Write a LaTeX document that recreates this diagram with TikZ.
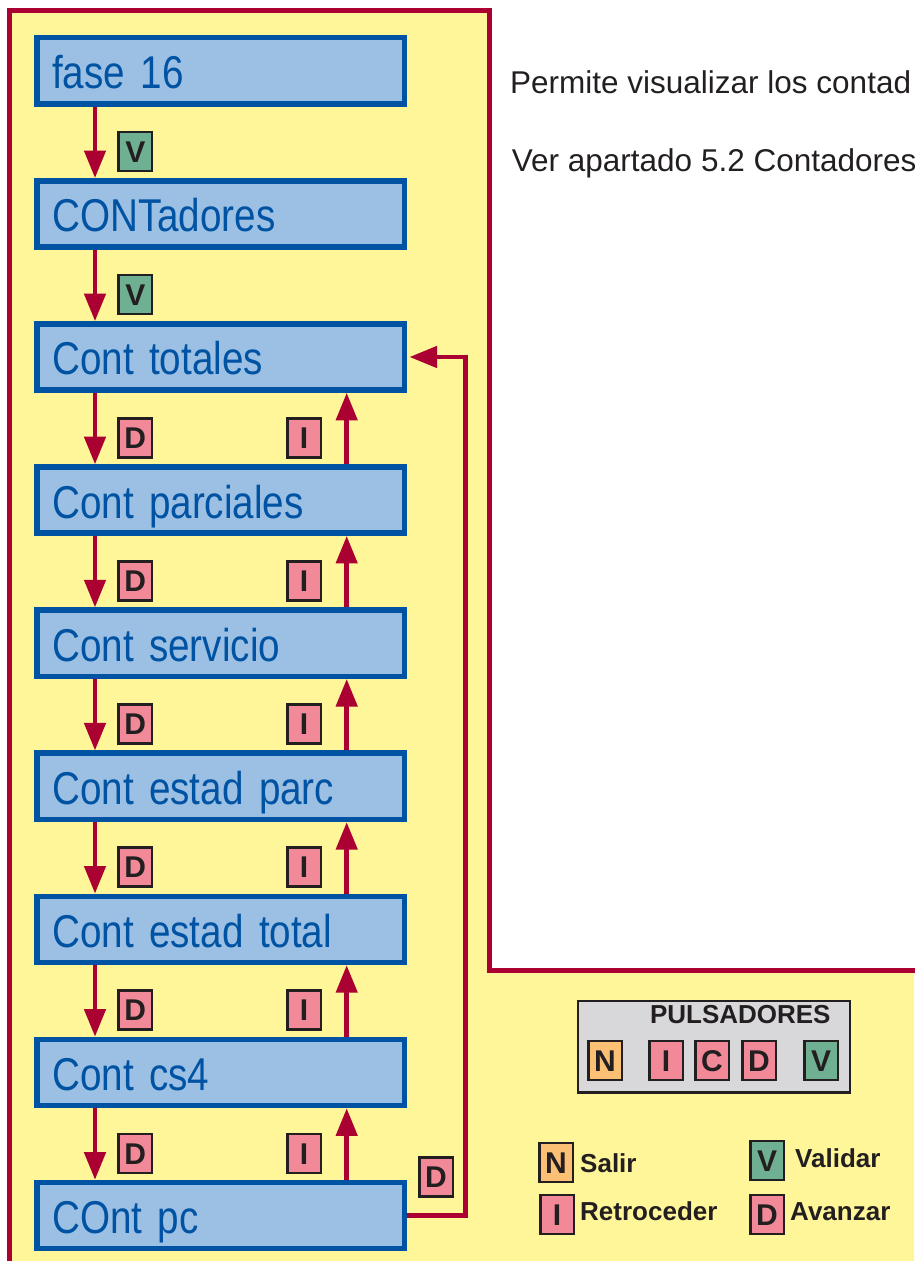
\documentclass[tikz,border=0pt]{standalone}
\usepackage{fontspec}
\setmainfont{Liberation Sans}
\newfontfamily\lcdfont[FakeStretch=0.84]{Liberation Sans}
\usetikzlibrary{arrows.meta, positioning, calc}
\definecolor{Marco}{RGB}{170, 0, 50}
\definecolor{Fondo}{RGB}{255, 245, 153}
\definecolor{Azul}{RGB}{0, 83, 163}
\definecolor{Celeste}{RGB}{155, 192, 228}
\definecolor{Rosa}{RGB}{242, 137, 152}
\definecolor{Verde}{RGB}{112, 176, 146}
\definecolor{Naranja}{RGB}{252, 192, 117}
\definecolor{Gris}{RGB}{216, 216, 219}
\definecolor{Tinta}{RGB}{35, 31, 32}

\begin{document}
\begin{tikzpicture}[
    x=1pt, y=1pt,
    node distance=71.4pt,
    pantalla/.style={draw=Azul, fill=Celeste, line width=5.5pt, text=Azul,
                text width=336.5pt, align=left, inner xsep=15.5pt, inner ysep=15.1pt,
                text height=36pt, text depth=0pt, font=\lcdfont\fontsize{46}{46}\selectfont},
    tecla/.style={draw=Tinta, line width=2.5pt, minimum width=33.5pt, minimum height=39pt,
                inner sep=0pt, text height=21.5pt, text depth=0pt, text=Tinta,
                font=\fontsize{30}{30}\selectfont\bfseries},
    teclaD/.style={tecla, fill=Rosa},
    teclaV/.style={tecla, fill=Verde},
    teclaN/.style={tecla, fill=Naranja},
    flecha/.style={draw=Marco, line width=4.5pt, -{Triangle[length=27.5pt, width=21pt]}},
    leyenda/.style={font=\fontsize{26}{26}\selectfont\bfseries, text=Tinta,
                inner sep=0pt, anchor=base west},
    nota/.style={font=\fontsize{31.5}{31.5}\selectfont, text=Tinta,
                inner sep=0pt, anchor=base west}
]
\useasboundingbox (0,0) rectangle (914,1261);

% fondo y marco
\fill[Fondo] (9.8,0) -- (9.8,1250.5) -- (489.8,1250.5) -- (489.8,290.2)
    -- (914,290.2) -- (914,0) -- cycle;
\draw[Marco, line width=5pt] (9.8,-3) -- (9.8,1250.5) -- (489.8,1250.5)
    -- (489.8,290.2) -- (917,290.2);

% pantallas
\node[pantalla] (f16) at (220.5,1190.2) {fase 16};
\node[pantalla, below=of f16] (cont) {CONTadores};
\node[pantalla, below=of cont] (tot) {Cont totales};
\node[pantalla, below=of tot] (par) {Cont parciales};
\node[pantalla, below=of par] (serv) {Cont servicio};
\node[pantalla, below=of serv] (ep) {Cont estad parc};
\node[pantalla, below=of ep] (et) {Cont estad total};
\node[pantalla, below=of et] (cs4) {Cont cs4};
\node[pantalla, below=of cs4] (pc) {COnt pc};

% avanzar
\draw[flecha] ([xshift=61pt]f16.south west) -- ([xshift=61pt]cont.north west)
    node[teclaV, pos=0.63, right=22.3pt] (v1) {V};
\draw[flecha] ([xshift=61pt]cont.south west) -- ([xshift=61pt]tot.north west)
    node[teclaV, pos=0.63, right=22.3pt] (v2) {V};
\draw[flecha] ([xshift=61pt]tot.south west) -- ([xshift=61pt]par.north west)
    node[teclaD, pos=0.63, right=22.3pt] (d1) {D};
\draw[flecha] ([xshift=61pt]par.south west) -- ([xshift=61pt]serv.north west)
    node[teclaD, pos=0.63, right=22.3pt] (d2) {D};
\draw[flecha] ([xshift=61pt]serv.south west) -- ([xshift=61pt]ep.north west)
    node[teclaD, pos=0.63, right=22.3pt] (d3) {D};
\draw[flecha] ([xshift=61pt]ep.south west) -- ([xshift=61pt]et.north west)
    node[teclaD, pos=0.63, right=22.3pt] (d4) {D};
\draw[flecha] ([xshift=61pt]et.south west) -- ([xshift=61pt]cs4.north west)
    node[teclaD, pos=0.63, right=22.3pt] (d5) {D};
\draw[flecha] ([xshift=61pt]cs4.south west) -- ([xshift=61pt]pc.north west)
    node[teclaD, pos=0.63, right=22.3pt] (d6) {D};

% retroceder
\draw[flecha] ([xshift=-60.3pt]par.north east) -- ([xshift=-60.3pt]tot.south east)
    node[teclaD, pos=0.37, left=24.7pt] (i1) {I};
\draw[flecha] ([xshift=-60.3pt]serv.north east) -- ([xshift=-60.3pt]par.south east)
    node[teclaD, pos=0.37, left=24.7pt] (i2) {I};
\draw[flecha] ([xshift=-60.3pt]ep.north east) -- ([xshift=-60.3pt]serv.south east)
    node[teclaD, pos=0.37, left=24.7pt] (i3) {I};
\draw[flecha] ([xshift=-60.3pt]et.north east) -- ([xshift=-60.3pt]ep.south east)
    node[teclaD, pos=0.37, left=24.7pt] (i4) {I};
\draw[flecha] ([xshift=-60.3pt]cs4.north east) -- ([xshift=-60.3pt]et.south east)
    node[teclaD, pos=0.37, left=24.7pt] (i5) {I};
\draw[flecha] ([xshift=-60.3pt]pc.north east) -- ([xshift=-60.3pt]cs4.south east)
    node[teclaD, pos=0.37, left=24.7pt] (i6) {I};

% vuelta al principio
\draw[flecha] (pc.east) -- ++(58.5,0) |- ([xshift=2.5pt]tot.east);
\node[teclaD, above right=18pt and 11pt of pc.east] (dv) {D};

% texto
\node[nota] (txt1) at (510,1167) {Permite visualizar los contad};
\node[nota] (txt2) at (511.7,1089.3) {Ver apartado 5.2 Contadores};

% pulsadores
\node[draw=Tinta, fill=Gris, line width=2.5pt, minimum width=271.8pt,
      minimum height=91.5pt] (puls) at (713.9,214) {};
\node[leyenda, anchor=base] (titulo) at (740.3,237) {PULSADORES};
\node[teclaN] (pN) at (605,200.5) {N};
\node[teclaD] (pI) at (666,200.5) {I};
\node[teclaD] (pC) at (712,200.5) {C};
\node[teclaD] (pD) at (759,200.5) {D};
\node[teclaV] (pV) at (821,200.5) {V};

% leyenda
\node[teclaN] (lN) at (556,98.5) {N};
\node[leyenda] (lsalir) at (580,88) {Salir};
\node[teclaD] (lI) at (557,46.5) {I};
\node[leyenda] (lret) at (580,40.3) {Retroceder};
\node[teclaV] (lV) at (767,100.5) {V};
\node[leyenda] (lval) at (795,93) {Validar};
\node[teclaD] (lD) at (767,46.5) {D};
\node[leyenda] (lava) at (790,40.3) {Avanzar};
\end{tikzpicture}
\end{document}
